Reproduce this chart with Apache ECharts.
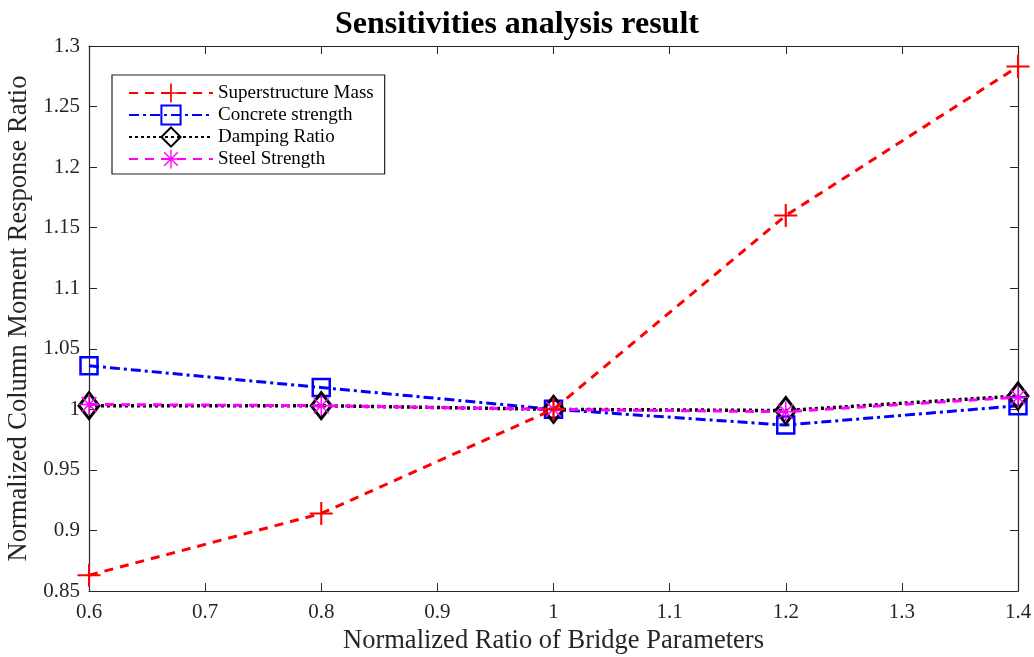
<!DOCTYPE html>
<html><head><meta charset="utf-8">
<script src="https://cdn.jsdelivr.net/npm/echarts@6/dist/echarts.min.js"></script>
<style>html,body{margin:0;padding:0;background:#fff}#c{width:1034px;height:657px}</style>
</head><body><div id="c"></div>
<script>
var xValues = [0.6, 0.8, 1.0, 1.2, 1.4];
var superstructureMass = [0.863, 0.914, 1.000, 1.160, 1.283];
var concreteStrength = [1.036, 1.018, 1.000, 0.987, 1.003];
var dampingRatio = [1.003, 1.003, 1.000, 0.999, 1.011];
var steelStrength = [1.004, 1.003, 1.000, 0.998, 1.010];
var seriesNames = ['Superstructure Mass', 'Concrete strength', 'Damping Ratio', 'Steel Strength'];

var FONT = '"Liberation Serif", "Times New Roman", serif';
var plusPath = 'path://M-1,-0.09H1V0.09H-1Z M-0.09,-1H0.09V1H-0.09Z';
var starPath = 'path://M-0.07,-1H0.07V1H-0.07Z M-1,-0.07H1V0.07H-1Z M-0.66,-0.76L0.76,0.66L0.66,0.76L-0.76,-0.66Z M0.66,-0.76L0.76,-0.66L-0.66,0.76L-0.76,0.66Z';

function pairs(ys){ return xValues.map(function(x,i){return [x, ys[i]];}); }
function fmt(v){ return String(parseFloat(v.toFixed(2))); }

var chart = echarts.init(document.getElementById('c'));
var axisLine = {show:true, lineStyle:{color:'#262626', width:1.2}};
chart.setOption({
  animation:false,
  title:{text:'Sensitivities analysis result', left:'center', top:4,
    textStyle:{fontFamily:FONT, fontSize:32, fontWeight:'bold', color:'#000'}},
  grid:{left:89, right:16, top:46, bottom:66, outerBoundsMode:'none', containLabel:false},
  legend:{
    left:112, top:75, orient:'vertical', itemGap:0, itemWidth:84, itemHeight:24,
    padding:[7,11,4,16], borderColor:'#222', borderWidth:1.2, backgroundColor:'#fff',
    textStyle:{fontFamily:FONT, fontSize:19, color:'#000', lineHeight:22},
    data: seriesNames
  },
  xAxis:[{
    type:'value', min:0.6, max:1.4, interval:0.1,
    name:'Normalized Ratio of Bridge Parameters', nameLocation:'middle', nameGap:36,
    nameTextStyle:{fontFamily:FONT, fontSize:26.5, color:'#262626'},
    axisLine:axisLine, axisTick:{inside:true, length:8, lineStyle:{color:'#262626'}},
    axisLabel:{fontFamily:FONT, fontSize:21, color:'#262626', margin:11, formatter:fmt},
    splitLine:{show:false}
  },{
    type:'value', min:0.6, max:1.4, interval:0.1, position:'top',
    axisLine:axisLine, axisTick:{inside:true, length:8, lineStyle:{color:'#262626'}},
    axisLabel:{show:false}, splitLine:{show:false}
  }],
  yAxis:[{
    type:'value', min:0.85, max:1.3, interval:0.05,
    name:'Normalized Column Moment Response Ratio', nameLocation:'middle', nameGap:53,
    nameTextStyle:{fontFamily:FONT, fontSize:26.5, color:'#262626'},
    axisLine:axisLine, axisTick:{inside:true, length:8, lineStyle:{color:'#262626'}},
    axisLabel:{fontFamily:FONT, fontSize:21, color:'#262626', margin:9, formatter:fmt},
    splitLine:{show:false}
  },{
    type:'value', min:0.85, max:1.3, interval:0.05, position:'right',
    axisLine:axisLine, axisTick:{inside:true, length:8, lineStyle:{color:'#262626'}},
    axisLabel:{show:false}, splitLine:{show:false}
  }],
  series:[
    {name:seriesNames[0], type:'line', data:pairs(superstructureMass), symbol:plusPath, symbolSize:23,
     lineStyle:{color:'#ff0000', width:3, type:[9,7]}, itemStyle:{color:'#ff0000'}, z:5},
    {name:seriesNames[1], type:'line', data:pairs(concreteStrength), symbol:'rect', symbolSize:17,
     lineStyle:{color:'#0000ff', width:3, type:[10,4,3,4]},
     itemStyle:{color:'rgba(0,0,0,0)', borderColor:'#0000ff', borderWidth:2.5}, z:2},
    {name:seriesNames[2], type:'line', data:pairs(dampingRatio), symbol:'diamond', symbolSize:[20,26],
     lineStyle:{color:'#000000', width:3.5, type:[3,3]},
     itemStyle:{color:'rgba(0,0,0,0)', borderColor:'#000000', borderWidth:3}, z:3},
    {name:seriesNames[3], type:'line', data:pairs(steelStrength), symbol:starPath, symbolSize:21,
     lineStyle:{color:'#ff00ff', width:3, type:[9,7]}, itemStyle:{color:'#ff00ff'}, z:4}
  ]
});
</script></body></html>
